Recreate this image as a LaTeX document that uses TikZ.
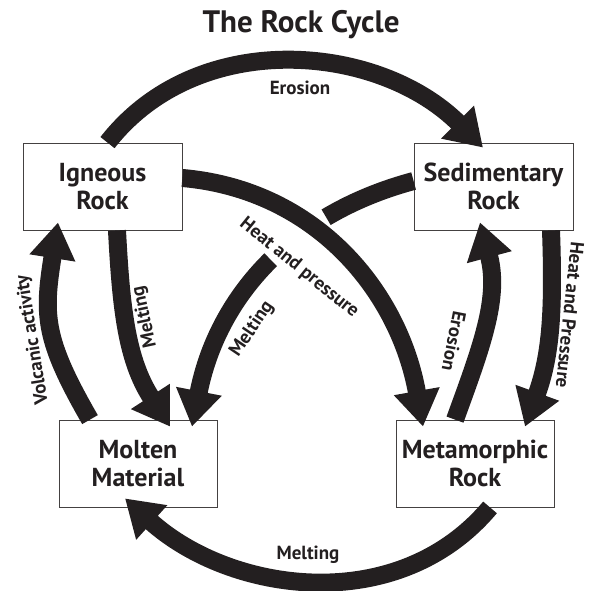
\documentclass[tikz,border=0pt]{standalone}
\usepackage{fontspec}
\setmainfont{PT Sans}
\usepackage{tikz}
\usetikzlibrary{arrows.meta}

\definecolor{ink}{RGB}{35,31,32}
\tikzset{
  rock/.style={draw=ink!85, line width=0.8pt, fill=white, minimum width=159pt, minimum height=87pt, inner sep=0pt, align=center, text=ink, font=\fontsize{26}{28}\selectfont\bfseries},
  flow/.style={ink, line width=18pt, -{Triangle[length=36pt,width=44pt]}},
  lbl/.style={text=ink, inner sep=0pt, font=\fontsize{19}{21}\selectfont\bfseries},
}

\begin{document}
\begin{tikzpicture}[x=1pt,y=1pt]
 \useasboundingbox (0,0) rectangle (593,590);
 \draw (301,557) node[anchor=base, text=ink, font=\fontsize{31}{33}\selectfont\bfseries] (title) {The Rock Cycle};

  \draw (102.5,403.5) node[rock] (ign) {Igneous\\Rock};
  \draw (493.5,403.5) node[rock] (sed) {Sedimentary\\Rock};
  \draw (138,126.5) node[rock, minimum width=158pt] (mol) {Molten\\Material};
  \draw (475,126.5) node[rock, minimum width=158pt] (met) {Metamorphic\\Rock};

     \path[flow] ([xshift=5pt]ign.north) edge[out=52,in=135] ([xshift=-10.5pt,yshift=-5pt]sed.north);
     \path[flow] ([xshift=14.5pt]ign.south) edge[out=-87,in=123] ([xshift=32pt,yshift=-7pt]mol.north);
     \path[flow] ([xshift=-48pt]mol.north) edge[out=120,in=-99,looseness=1.2] ([xshift=-44.5pt,yshift=8pt]ign.south);
     \path[flow] ([yshift=8.5pt]ign.east) edge[out=-5,in=100] ([xshift=-52pt,yshift=-7pt]met.north);
     \path[flow] ([yshift=5.5pt]sed.west) edge[out=195,in=79,dash pattern=on 95pt off 70pt on 1000pt] ([xshift=54pt,yshift=-7pt]mol.north);
     \path[flow] ([xshift=-20pt]met.north) edge[out=70,in=-75] ([xshift=-13.5pt,yshift=8pt]sed.south);
     \path[flow] ([xshift=57.5pt]sed.south) edge[out=-88,in=70] ([xshift=50pt,yshift=-7pt]met.north);
     \path[flow] ([xshift=15pt]met.south) edge[out=-130,in=-42] ([xshift=-13pt,yshift=9pt]mol.south);

  \draw (300,502) node[lbl] (erosionTop) {Erosion};
  \draw (33,250) node[lbl, rotate=99] (volcanic) {Volcanic activity};
  \draw (145,273) node[lbl, rotate=102] (meltIgn) {Melting};
  \draw (252,261) node[lbl, rotate=56] (meltSed) {Melting};
  \draw (299,322) node[lbl, rotate=-39] (heatIgn) {Heat and pressure};
  \draw (454,249) node[lbl, rotate=-101] (erosionMet) {Erosion};
  \draw (570,275) node[lbl, rotate=-96] (heatSed) {Heat and Pressure};
  \draw (308,35) node[lbl] (meltMet) {Melting};
\end{tikzpicture}
\end{document}
